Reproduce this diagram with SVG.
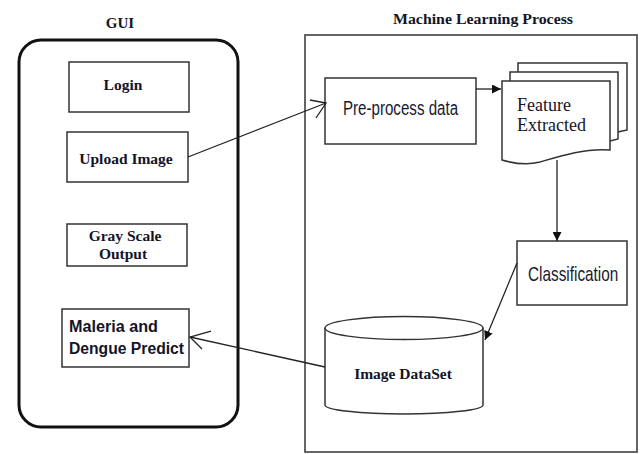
<svg xmlns="http://www.w3.org/2000/svg" width="643" height="454" viewBox="0 0 643 454">
  <style>
    .box { fill: #fff; stroke: #333; stroke-width: 1.5; }
    .line { fill: none; stroke: #222; stroke-width: 1.3; }
    .serifb { font-family: "Liberation Serif", "Times New Roman", serif; font-weight: bold; fill: #141428; }
    .serif { font-family: "Liberation Serif", "Times New Roman", serif; fill: #141428; }
    .sans { font-family: "Liberation Sans", Arial, sans-serif; fill: #1a1a30; }
    .sansb { font-family: "Liberation Sans", Arial, sans-serif; font-weight: bold; fill: #141428; }
  </style>
  <defs>
    <marker id="solid" viewBox="0 0 10 10" refX="10" refY="5" markerWidth="9" markerHeight="9" markerUnits="userSpaceOnUse" orient="auto">
      <path d="M0,0 L10,5 L0,10 Z" fill="#111"/>
    </marker>
  </defs>
  <rect width="643" height="454" fill="#fff"/>

  <!-- GUI panel -->
  <g id="gui">
    <text class="serifb" x="120" y="28" font-size="15" text-anchor="middle">GUI</text>
    <rect x="19" y="40" width="219" height="387" rx="22" ry="22" fill="none" stroke="#111" stroke-width="3"/>
  </g>
  <g id="login">
    <rect class="box" x="69" y="62" width="120" height="50"/>
    <text class="serifb" x="123" y="90" font-size="15.5" text-anchor="middle">Login</text>
  </g>
  <g id="upload">
    <rect class="box" x="67" y="132" width="121" height="50"/>
    <text class="serifb" x="126" y="164" font-size="15.5" text-anchor="middle">Upload Image</text>
  </g>
  <g id="grayscale">
    <rect class="box" x="67" y="224" width="120" height="42"/>
    <text class="serifb" x="125" y="241" font-size="15.5" text-anchor="middle">Gray Scale</text>
    <text class="serifb" x="123" y="259" font-size="15.5" text-anchor="middle">Output</text>
  </g>
  <g id="predict">
    <rect class="box" x="62" y="309" width="127" height="58"/>
    <text class="sansb" x="69" y="332" font-size="16" textLength="89" lengthAdjust="spacingAndGlyphs">Maleria and</text>
    <text class="sansb" x="69" y="354" font-size="16" textLength="115" lengthAdjust="spacingAndGlyphs">Dengue Predict</text>
  </g>

  <!-- Machine learning panel -->
  <g id="ml-process">
    <text class="serifb" x="483" y="24" font-size="15" text-anchor="middle" textLength="180" lengthAdjust="spacingAndGlyphs">Machine Learning Process</text>
    <rect x="305" y="35" width="332" height="417" fill="none" stroke="#555" stroke-width="1.8"/>
  </g>
  <g id="preprocess">
    <rect class="box" x="325" y="78" width="151" height="66"/>
    <text class="sans" transform="translate(343,115) scale(0.72,1)" font-size="21">Pre-process data</text>
  </g>
  <g id="features">
    <path class="box" d="M518,132 L518,63 L627,63 L627,130 Q622,131 618,132"/>
    <path class="box" d="M510,140 L510,72 L618,72 L618,139 Q614,140 610,141"/>
    <path class="box" d="M502,160 L502,81 L610,81 L610,150 C585,148 560,156 540,162 C525,166 512,163 502,160 Z"/>
    <text class="serif" x="517" y="111" font-size="18">Feature</text>
    <text class="serif" x="517" y="131" font-size="18">Extracted</text>
  </g>
  <g id="classification">
    <rect class="box" x="517" y="241" width="110" height="64"/>
    <text class="sans" transform="translate(528,281) scale(0.73,1)" font-size="21">Classification</text>
  </g>
  <g id="dataset">
    <path class="box" d="M325,328 L325,405 A79,9 0 0 0 483,405 L483,328"/>
    <ellipse class="box" cx="404" cy="328" rx="79" ry="11.5"/>
    <text class="serifb" x="403" y="379" font-size="15.5" text-anchor="middle">Image DataSet</text>
  </g>

  <!-- Connectors -->
  <g id="connectors">
    <path class="line" d="M188,157 L326,103"/>
    <path class="line" d="M310,100 L326,103 L316,118"/>
    <path class="line" d="M476,89 L501,89" marker-end="url(#solid)"/>
    <path class="line" d="M557,160 L557,241" marker-end="url(#solid)"/>
    <path class="line" d="M517,263 L485,340" marker-end="url(#solid)"/>
    <path class="line" d="M325,367 L190,337"/>
    <path class="line" d="M211,331 L190,337 L202,349"/>
  </g>
</svg>
